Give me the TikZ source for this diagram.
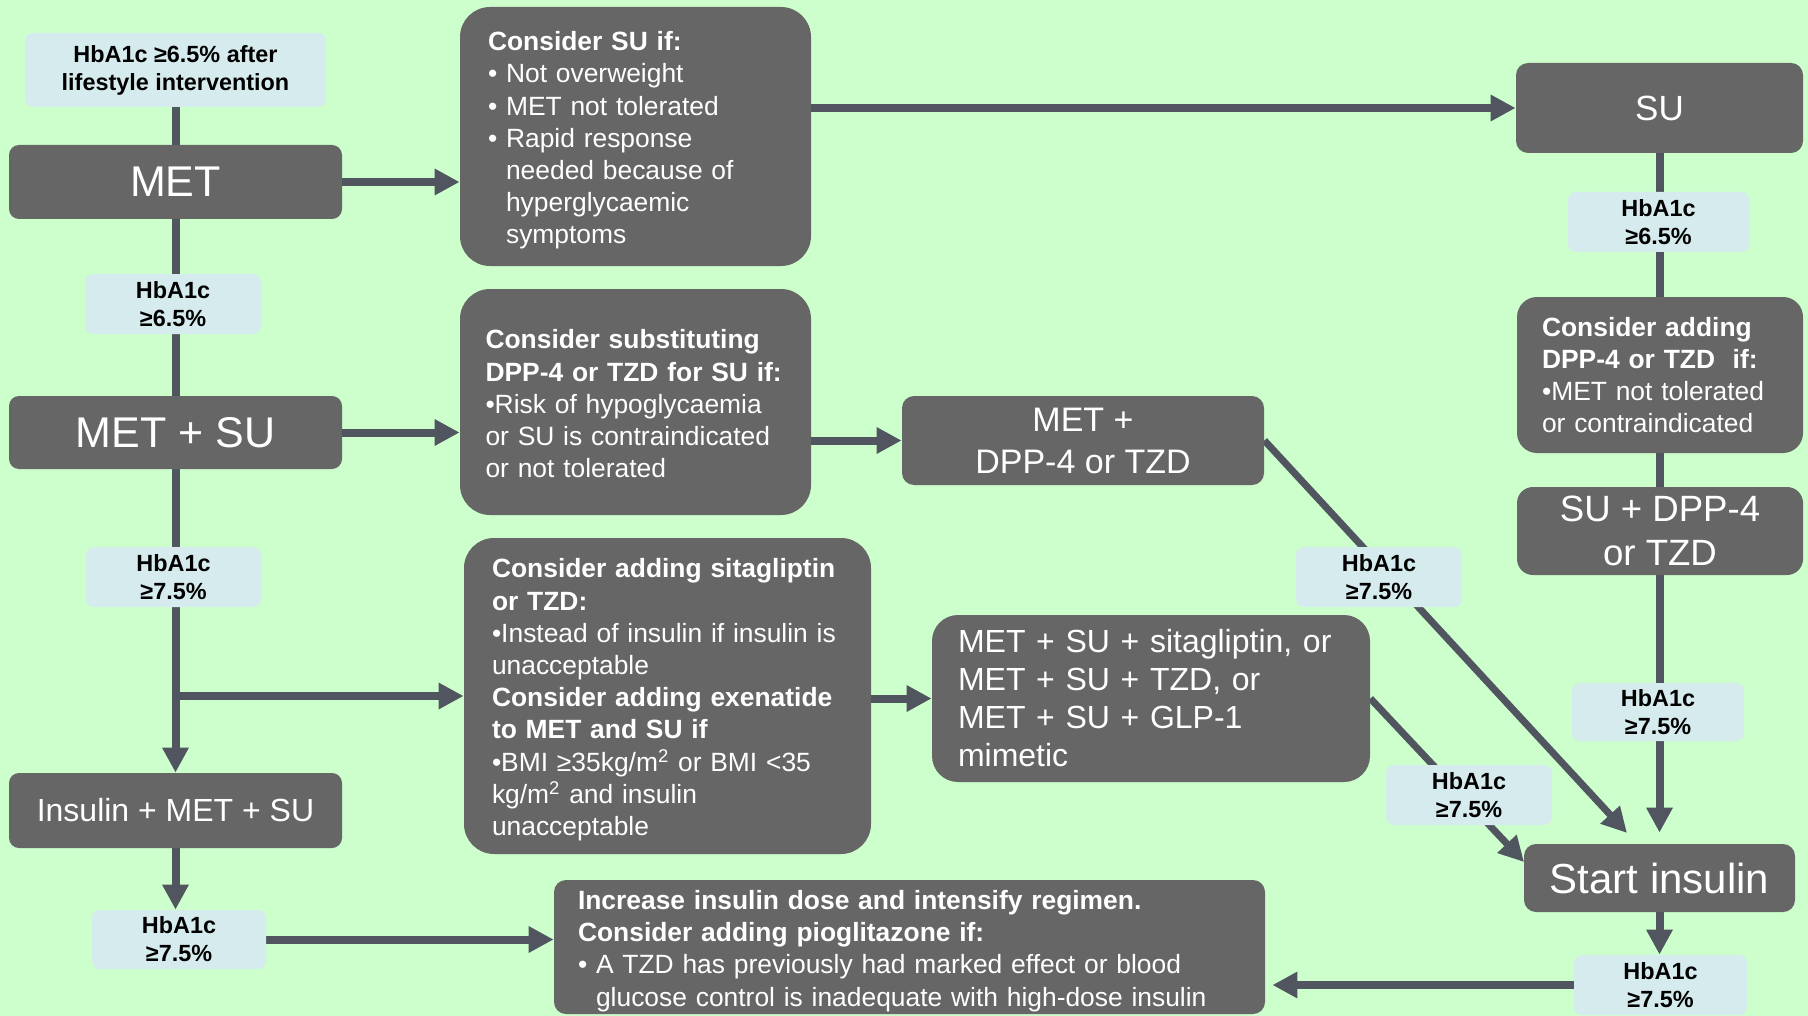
\documentclass[tikz,border=0pt]{standalone}
\usepackage{fontspec}
\setmainfont{Liberation Sans}
\usetikzlibrary{arrows.meta}
\definecolor{bgc}{HTML}{CCFFCC}
\definecolor{boxg}{HTML}{666666}
\definecolor{linec}{HTML}{50555F}
\definecolor{labb}{HTML}{D6EBED}
\newcommand\bodyf{\fontsize{13.2}{16.1}\selectfont}
\newcommand\labf{\fontsize{11.7}{14}\selectfont\bfseries}
\newcommand\ind{\hphantom{•\ }}
\newcommand\tp{\rule{0pt}{13.5pt}}
\pgfdeclarelayer{back}
\pgfdeclarelayer{conn}
\pgfsetlayers{back,conn,main}
\tikzset{
  gbox/.style={fill=boxg, rounded corners=6pt, text=white, inner sep=0pt, align=center},
  tbox/.style={gbox, align=left, font=\bodyf},
  bigr/.style={rounded corners=15pt},
  lbox/.style={fill=labb, rounded corners=4pt, text=black, inner sep=0pt, align=center, font=\labf},
  conn/.style={draw=linec, line width=4pt},
  arr/.style={conn, -{Triangle[length=12.5pt,width=12.5pt]}},
  darr/.style={arr, line width=3.5pt},
}
\begin{document}
\begin{tikzpicture}[x=0.5pt,y=-0.5pt]
\begin{pgfonlayer}{back}
\fill[bgc] (0,0) rectangle (1808,1016);
\end{pgfonlayer}
\useasboundingbox (0,0) rectangle (1808,1016);

% left column
\node[lbox, minimum width=150.5pt, minimum height=37pt] (life) at (175.5,70) {HbA1c ≥6.5\% after\\lifestyle intervention};
\node[gbox, rounded corners=5pt, minimum width=166.5pt, minimum height=37pt, font=\fontsize{21.5}{25}\selectfont] (met) at (175.5,182) {MET};
\node[lbox, minimum width=88pt, minimum height=30pt] (h1) at (173,304) {HbA1c\\≥6.5\%};
\node[gbox, rounded corners=5pt, minimum width=166.5pt, minimum height=36.5pt, font=\fontsize{21.5}{25}\selectfont] (metsu) at (175.5,432.5) {MET + SU};
\node[lbox, minimum width=87.5pt, minimum height=30pt] (h2) at (173.5,577) {HbA1c\\≥7.5\%};
\node[gbox, rounded corners=5pt, minimum width=166.5pt, minimum height=37.5pt, font=\fontsize{16}{19}\selectfont] (ins) at (175.5,810.5) {Insulin + MET + SU};
\node[lbox, minimum width=87pt, minimum height=29.5pt] (h3) at (179,939.5) {HbA1c\\≥7.5\%};

% middle boxes
\node[tbox, bigr, inner xsep=14pt, text width=147.5pt, minimum height=129.5pt] (csu) at (635.5,136.5)
  {\tp\textbf{Consider SU if:}\\• Not overweight\\• MET not tolerated\\• Rapid response\\\ind needed because of\\\ind hyperglycaemic\\\ind symptoms};
\node[tbox, bigr, inner xsep=12.75pt, text width=150pt, minimum height=113pt] (csub) at (635.5,402)
  {\rule{0pt}{11.5pt}\textbf{Consider substituting}\\\textbf{DPP-4 or TZD for SU if:}\\•Risk of hypoglycaemia\\or SU is contraindicated\\or not tolerated};
\node[tbox, bigr, inner xsep=14pt, text width=175.5pt, minimum height=158pt] (csit) at (667.5,696)
  {\tp\textbf{Consider adding sitagliptin}\\\textbf{or TZD:}\\•Instead of insulin if insulin is\\unacceptable\\\textbf{Consider adding exenatide}\\\textbf{to MET and SU if}\\•BMI ≥35kg/m\textsuperscript{2} or BMI <35\\kg/m\textsuperscript{2} and insulin\\unacceptable};
\node[gbox, minimum width=181pt, minimum height=44.5pt, font=\fontsize{17}{21}\selectfont] (mdpp) at (1083,440.5) {MET +\\DPP-4 or TZD};
\node[gbox, rounded corners=13pt, align=left, inner xsep=13pt, text width=193pt, minimum height=83.5pt, font=\fontsize{16}{19}\selectfont] (msu3) at (1151,698.5)
  {MET + SU + sitagliptin, or\\MET + SU + TZD, or\\MET + SU + GLP-1\\mimetic};
\node[tbox, inner xsep=12pt, text width=331.5pt, minimum height=67pt] (incr) at (909.5,947)
  {\tp\textbf{Increase insulin dose and intensify regimen.}\\\textbf{Consider adding pioglitazone if:}\\• A TZD has previously had marked effect or blood\\\ind glucose control is inadequate with high-dose insulin};

% right column
\node[gbox, minimum width=143.5pt, minimum height=45pt, font=\fontsize{17.5}{21}\selectfont] (su) at (1659.5,108) {SU};
\node[lbox, minimum width=90.5pt, minimum height=30pt] (h4) at (1658.5,222) {HbA1c\\≥6.5\%};
\node[tbox, rounded corners=10pt, inner xsep=12.5pt, text width=118pt, minimum height=78pt] (cadd) at (1660,375)
  {\textbf{Consider adding}\\\textbf{DPP-4 or TZD~ if:}\\•MET not tolerated\\or contraindicated};
\node[gbox, rounded corners=8pt, minimum width=143pt, minimum height=44pt, font=\fontsize{18.3}{22}\selectfont] (sudpp) at (1660,531) {SU + DPP-4\\or TZD};
\node[lbox, minimum width=86pt, minimum height=29pt] (h5) at (1658,712) {HbA1c\\≥7.5\%};
\node[gbox, minimum width=135.5pt, minimum height=34pt, font=\fontsize{21}{25}\selectfont] (start) at (1659.5,878) {Start insulin};
\node[lbox, minimum width=86.5pt, minimum height=30pt] (h6) at (1660.5,985) {HbA1c\\≥7.5\%};
\node[lbox, minimum width=83pt, minimum height=30pt] (h7) at (1379,577) {HbA1c\\≥7.5\%};
\node[lbox, minimum width=83pt, minimum height=30pt] (h8) at (1469,795) {HbA1c\\≥7.5\%};

\coordinate (t1) at (1627,833);
\coordinate (t2) at (1524,862);

\begin{pgfonlayer}{conn}
\draw[arr] (life.south) -- (ins.north);
\draw[arr] (h2.south |- csit.west) -- (csit.west);
\draw[arr] (ins.south) -- (ins.south |- h3.north);
\draw[arr] (h3.east) -- (h3.east -| incr.west);
\draw[arr] (met.east) -- (met.east -| csu.west);
\draw[arr] (metsu.east) -- (metsu.east -| csub.west);
\draw[arr] (su.west -| csu.east) -- (su.west);
\draw[arr] (mdpp.west -| csub.east) -- (mdpp.west);
\draw[arr] (msu3.west -| csit.east) -- (msu3.west);
\draw[arr, shorten >=5.5pt] (su.south) -- (su.south |- start.north);
\draw[arr] (start.south) -- (start.south |- h6.north);
\draw[arr, shorten >=3.5pt] (h6.west) -- (h6.west -| incr.east);
\draw[darr] (mdpp.east) -- (t1);
\draw[darr] (msu3.east) -- (t2);
\end{pgfonlayer}
\end{tikzpicture}
\end{document}
